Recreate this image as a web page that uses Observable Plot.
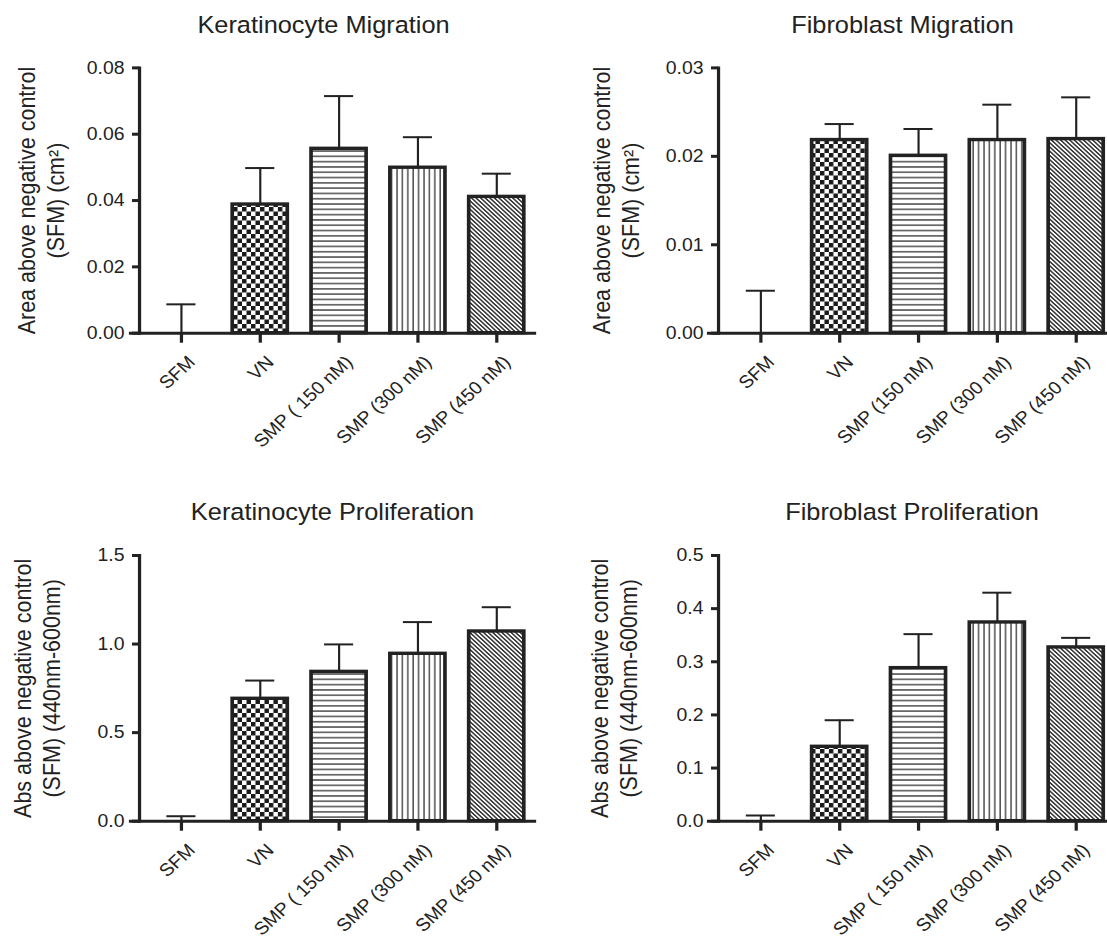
<!DOCTYPE html>
<html><head><meta charset="utf-8">
<script src="https://cdn.jsdelivr.net/npm/d3@7"></script>
<script src="https://cdn.jsdelivr.net/npm/@observablehq/plot@0.6"></script>
<style>
body{margin:0;background:#fff;}
#root{position:relative;width:1107px;height:943px;overflow:hidden;background:#fff;}
#root svg.plotpanel{position:absolute;overflow:visible;transform-origin:0 0;}
</style></head><body>
<svg width="0" height="0" style="position:absolute">
<defs>
<pattern id="pChecker" patternUnits="userSpaceOnUse" width="8.3" height="9">
<rect width="8.3" height="9" fill="#fff"/>
<rect x="0" y="0" width="4.15" height="4.5" fill="#1a1a1a"/>
<rect x="4.15" y="4.5" width="4.15" height="4.5" fill="#1a1a1a"/>
</pattern>
<pattern id="pHoriz" patternUnits="userSpaceOnUse" width="10" height="5.3">
<rect width="10" height="5.3" fill="#fff"/>
<rect y="2" width="10" height="1.3" fill="#333"/>
</pattern>
<pattern id="pVert" patternUnits="userSpaceOnUse" width="5" height="10">
<rect width="5" height="10" fill="#fff"/>
<rect x="2" width="1.2" height="10" fill="#333"/>
</pattern>
<pattern id="pDiag" patternUnits="userSpaceOnUse" width="3" height="10" patternTransform="rotate(-45)">
<rect width="3" height="10" fill="#fff"/>
<rect width="1.45" height="10" fill="#333"/>
</pattern>
</defs></svg>
<div id="root"></div>
<script>
// ---- data ----
const categories = ["SFM", "VN", "SMP150", "SMP300", "SMP450"];
const labelsSpaced = ["SFM", "VN", "SMP ( 150 nM)", "SMP (300 nM)", "SMP (450 nM)"];
const labelsPlain  = ["SFM", "VN", "SMP (150 nM)", "SMP (300 nM)", "SMP (450 nM)"];

const kerMigMean = [0, 0.0388, 0.0556, 0.0499, 0.0411];
const kerMigErr  = [0.0087, 0.0110, 0.0159, 0.0092, 0.0070];
const fibMigMean = [0, 0.02184, 0.02006, 0.02184, 0.02195];
const fibMigErr  = [0.0048, 0.00181, 0.00303, 0.0040, 0.00472];
const kerProMean = [0, 0.691, 0.843, 0.945, 1.071];
const kerProErr  = [0.028, 0.103, 0.155, 0.179, 0.137];
const fibProMean = [0, 0.140, 0.288, 0.374, 0.327];
const fibProErr  = [0.0107, 0.050, 0.064, 0.056, 0.018];

const kerMigTicks = [0, 0.02, 0.04, 0.06, 0.08];
const fibMigTicks = [0, 0.01, 0.02, 0.03];
const kerProTicks = [0, 0.5, 1.0, 1.5];
const fibProTicks = [0, 0.1, 0.2, 0.3, 0.4, 0.5];

const titles = ["Keratinocyte Migration", "Fibroblast Migration", "Keratinocyte Proliferation", "Fibroblast Proliferation"];
const yLabelMig = "Area above negative control\n(SFM) (cm²)";
const yLabelPro = "Abs above negative control\n(SFM) (440nm-600nm)";

// ---- styling ----
const fills = ["#fff", "url(#pChecker)", "url(#pHoriz)", "url(#pVert)", "url(#pDiag)"];
const INK = "#222";
const FONT = "'Liberation Sans', Arial, Helvetica, sans-serif";
const S = 1.08; // the reference figure is slightly stretched horizontally

function panel(o) {
  // o holds horizontal positions in final page pixels (relative to the panel's left edge)
  const h = v => v / S;
  const data = categories.map((c, i) => ({
    cat: c, mean: o.mean[i], err: o.err[i], top: o.mean[i] + o.err[i], label: o.labels[i], fill: fills[i]
  }));
  const W = h(o.width);
  const mL = h(o.axisStart), mR = W - h(o.axisEnd);
  const svg = Plot.plot({
    width: W, height: o.height,
    marginLeft: mL, marginRight: mR, marginTop: o.marginTop, marginBottom: o.marginBottom,
    style: {fontFamily: FONT, color: INK, background: "transparent", overflow: "visible"},
    x: {domain: categories, range: [h(o.xRange[0]), h(o.xRange[1])], padding: 0.308, axis: null},
    y: {domain: o.yDomain, range: [o.height - o.marginBottom, o.marginTop], axis: null},
    color: {type: "identity"},
    marks: [
      Plot.barY(data.filter(d => d.mean > 0), {x: "cat", y: "mean", fill: "fill", stroke: INK, strokeWidth: 3.4}),
      Plot.ruleX(data, {x: "cat", y1: "mean", y2: "top", stroke: INK, strokeWidth: 2}),
      Plot.tickY(data, {x: "cat", y: "top", stroke: INK, strokeWidth: 2, insetLeft: h(13), insetRight: h(13)}),
      Plot.frame({anchor: "bottom", stroke: INK, strokeWidth: 3}),
      Plot.frame({anchor: "left", dx: h(o.axisDx), stroke: INK, strokeWidth: 3}),
      Plot.axisY({ticks: o.yTicks, tickFormat: d3.format(o.yFormat), tickSize: h(7), tickPadding: h(8),
                  fontSize: 18, strokeWidth: 3, stroke: INK, fill: INK, dx: h(o.axisDx), label: null}),
      Plot.axisX({tickSize: 10, strokeWidth: 3, stroke: INK, tickFormat: () => "", label: null}),
      Plot.text(data, {x: "cat", text: "label", frameAnchor: "bottom", rotate: -45, textAnchor: "end",
                       lineAnchor: "middle", dx: 9.5, dy: 26, fontSize: 18, fill: INK}),
      Plot.text([o.yLabel], {text: d => d, frameAnchor: "left", rotate: -90, textAnchor: "middle",
                             lineAnchor: "middle", dx: h(o.yLabelX - o.axisStart),
                             fontSize: 21.5, lineHeight: 1.24, fill: INK}),
      Plot.text([o.title], {text: d => d, frameAnchor: "top-left", textAnchor: "middle", lineAnchor: "middle",
                            dx: h(o.titleX - o.axisStart), dy: o.titleY - o.marginTop, fontSize: 23.5, fill: INK})
    ]
  });
  svg.classList.add("plotpanel");
  svg.style.left = o.left + "px";
  svg.style.top = o.top + "px";
  svg.style.transform = `scaleX(${S})`;
  document.getElementById("root").appendChild(svg);
}

const leftCol = {left: 0, width: 553, axisStart: 130, axisEnd: 534, xRange: [127, 549], axisDx: 9};
const rightCol = {left: 560, width: 547, axisStart: 148, axisEnd: 547, xRange: [146.3, 568.3], axisDx: 10};
const topRow = {top: 0, height: 470, marginTop: 67.4, marginBottom: 137.3, titleY: 25};
const botRow = {top: 470, height: 473, marginTop: 85, marginBottom: 122.3, titleY: 42};

panel({...leftCol, ...topRow, yDomain: [0, 0.08], yTicks: kerMigTicks, yFormat: ".2f",
       mean: kerMigMean, err: kerMigErr, labels: labelsSpaced, title: titles[0], titleX: 323,
       yLabel: yLabelMig, yLabelX: 40});
panel({...rightCol, ...topRow, yDomain: [0, 0.03], yTicks: fibMigTicks, yFormat: ".2f",
       mean: fibMigMean, err: fibMigErr, labels: labelsPlain, title: titles[1], titleX: 342,
       yLabel: yLabelMig, yLabelX: 55});
panel({...leftCol, ...botRow, yDomain: [0, 1.5], yTicks: kerProTicks, yFormat: ".1f",
       mean: kerProMean, err: kerProErr, labels: labelsSpaced, title: titles[2], titleX: 332,
       yLabel: yLabelPro, yLabelX: 36});
panel({...rightCol, ...botRow, yDomain: [0, 0.5], yTicks: fibProTicks, yFormat: ".1f",
       mean: fibProMean, err: fibProErr, labels: labelsSpaced, title: titles[3], titleX: 351.5,
       yLabel: yLabelPro, yLabelX: 53});
</script>
</body></html>
